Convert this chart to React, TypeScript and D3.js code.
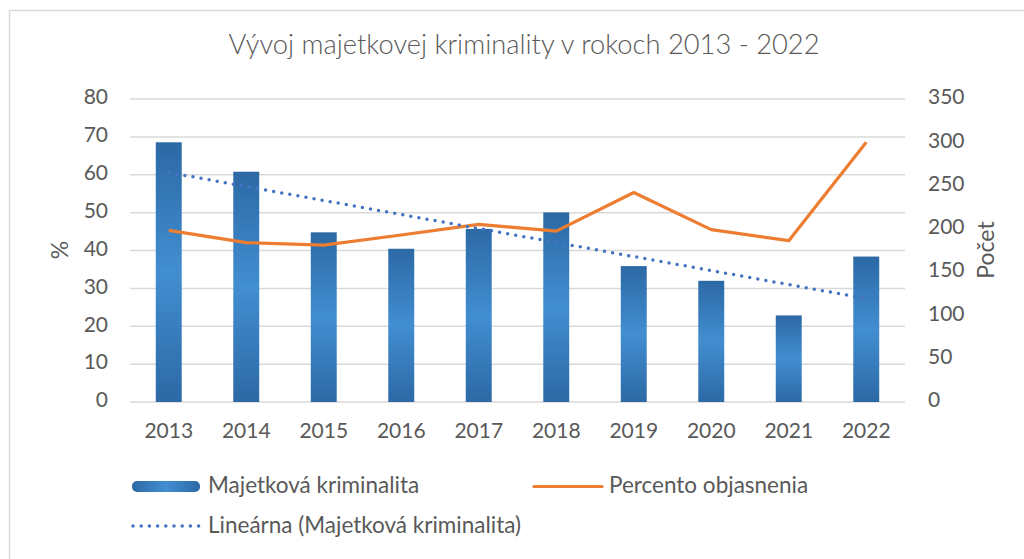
import React from "react";
import * as d3 from "d3";

const years = ["2013", "2014", "2015", "2016", "2017", "2018", "2019", "2020", "2021", "2022"];
const counts = [300, 266, 196, 177, 200, 219, 157, 140, 100, 168];
const percents = [45.3, 42.1, 41.4, 44.1, 46.9, 45.1, 55.3, 45.5, 42.6, 68.6];
const leftTicks = [0, 10, 20, 30, 40, 50, 60, 70, 80];
const rightTicks = [0, 50, 100, 150, 200, 250, 300, 350];

const title = "Vývoj majetkovej kriminality v rokoch 2013 - 2022";
const barName = "Majetková kriminalita";
const lineName = "Percento objasnenia";
const trendName = "Lineárna (Majetková kriminalita)";

export default function App() {
  const W = 1024, H = 559;
  const left = 130, right = 905, top = 99, bottom = 402;
  const x = d3.scaleBand<string>().domain(years).range([left, right]).padding(0);
  const yL = d3.scaleLinear().domain([0, 80]).range([bottom, top]);
  const yR = d3.scaleLinear().domain([0, 350]).range([bottom, top]);
  const bw = x.step() * 0.335;
  const cx = (y: string) => (x(y) as number) + x.bandwidth() / 2;

  // linear trend of counts
  const n = counts.length;
  const xs = counts.map((_, i) => i + 1);
  const mx = d3.mean(xs) as number;
  const my = d3.mean(counts) as number;
  const slope = d3.sum(xs.map((xi, i) => (xi - mx) * (counts[i] - my))) / d3.sum(xs.map((xi) => (xi - mx) ** 2));
  const icpt = my - slope * mx;
  const trendPts: [number, number][] = [
    [cx(years[0]), yR(icpt + slope * 1)],
    [cx(years[n - 1]), yR(icpt + slope * n)],
  ];

  const line = d3.line<number>().x((_, i) => cx(years[i])).y((d) => yL(d));
  const font = "Lato, 'Open Sans', sans-serif";
  const txt = "#595959";
  const legFs = 22.5;

  return (
    <svg width={W} height={H} style={{ position: "absolute", left: 0, top: 0, background: "#fff" }}>
      <defs>
        <linearGradient id="barGrad" x1="0" y1="0" x2="0" y2="1">
          <stop offset="0%" stopColor="#2c69a5" />
          <stop offset="50%" stopColor="#428ed1" />
          <stop offset="100%" stopColor="#2c69a5" />
        </linearGradient>
        <linearGradient id="legGrad" x1="0" y1="0" x2="1" y2="0">
          <stop offset="0%" stopColor="#2c69a5" />
          <stop offset="50%" stopColor="#428ed1" />
          <stop offset="100%" stopColor="#2c69a5" />
        </linearGradient>
      </defs>
      <rect x={9.5} y={10.5} width={W + 20} height={H + 20} fill="#fff" stroke="#d9d9d9" strokeWidth={1.5} />
      <text x={524} y={47} textAnchor="middle" dominantBaseline="middle" fontFamily={font} fontWeight={300} fontSize={27.3} fill={txt}>
        {title}
      </text>
      {leftTicks.map((t) => (
        <line key={"g" + t} x1={left} x2={right} y1={yL(t)} y2={yL(t)} stroke="#d9d9d9" strokeWidth={1.5} />
      ))}
      {leftTicks.map((t) => (
        <text key={"l" + t} x={108} y={yL(t)} textAnchor="end" dominantBaseline="middle" fontFamily={font} fontSize={21} fill={txt}>
          {t}
        </text>
      ))}
      {rightTicks.map((t) => (
        <text key={"r" + t} x={928} y={yR(t)} textAnchor="start" dominantBaseline="middle" fontFamily={font} fontSize={21} fill={txt}>
          {t}
        </text>
      ))}
      <text transform={`translate(62,250) rotate(-90)`} textAnchor="middle" dominantBaseline="middle" fontFamily={font} fontSize={23} fill={txt}>
        %
      </text>
      <text transform={`translate(988,250) rotate(-90)`} textAnchor="middle" dominantBaseline="middle" fontFamily={font} fontSize={23} fill={txt}>
        Počet
      </text>
      {years.map((y) => (
        <text key={"x" + y} x={cx(y)} y={433} textAnchor="middle" dominantBaseline="middle" fontFamily={font} fontSize={21} fill={txt}>
          {y}
        </text>
      ))}
      {counts.map((v, i) => (
        <rect key={"b" + i} x={cx(years[i]) - bw / 2} y={yR(v)} width={bw} height={bottom - yR(v)} fill="url(#barGrad)" />
      ))}
      <path d={line(percents) as string} fill="none" stroke="#ed7d31" strokeWidth={3.2} strokeLinejoin="round" />
      <line
        x1={trendPts[0][0]} y1={trendPts[0][1]} x2={trendPts[1][0]} y2={trendPts[1][1]}
        stroke="#4472c4" strokeWidth={3.5} strokeDasharray="0 8.2" strokeLinecap="round"
      />
      {/* legend */}
      <rect x={132} y={481} width={68} height={11} rx={5} fill="url(#legGrad)" />
      <text x={208} y={487} dominantBaseline="middle" fontFamily={font} fontSize={legFs} fill={txt}>{barName}</text>
      <line x1={534} x2={602} y1={486.5} y2={486.5} stroke="#ed7d31" strokeWidth={3.2} strokeLinecap="round" />
      <text x={609} y={487} dominantBaseline="middle" fontFamily={font} fontSize={legFs} fill={txt}>{lineName}</text>
      <line x1={133} x2={200} y1={526} y2={526} stroke="#4472c4" strokeWidth={3.5} strokeDasharray="0 8.2" strokeLinecap="round" />
      <text x={208} y={527} dominantBaseline="middle" fontFamily={font} fontSize={legFs} fill={txt}>{trendName}</text>
    </svg>
  );
}
